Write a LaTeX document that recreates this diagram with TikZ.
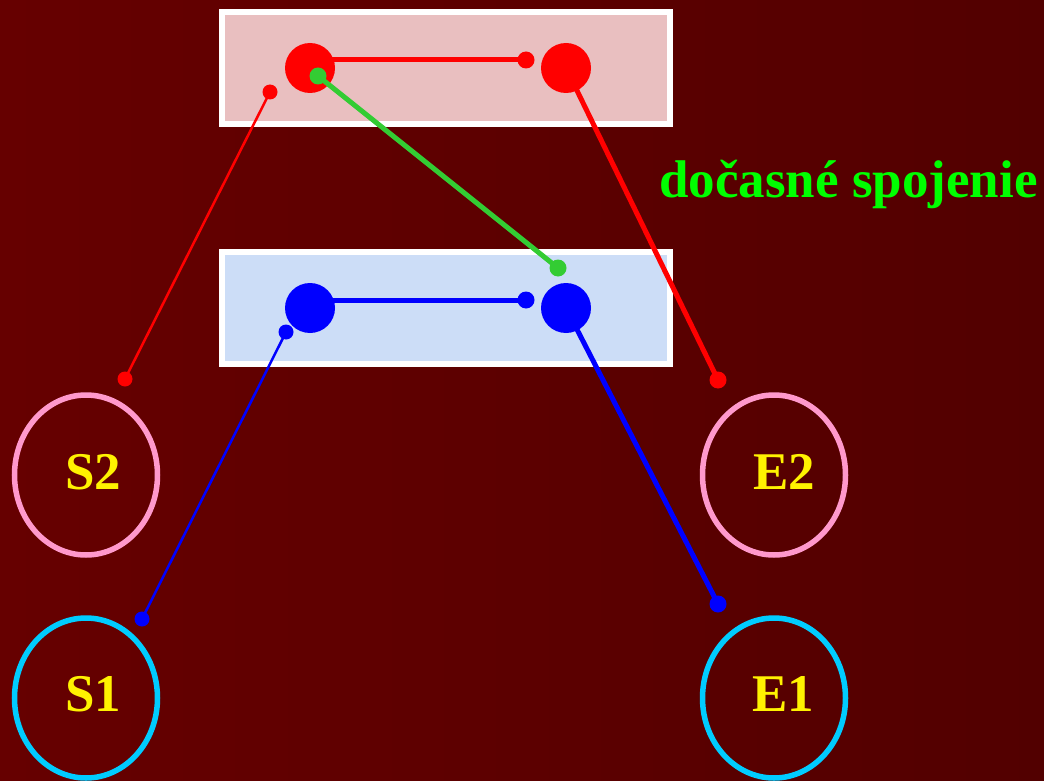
\documentclass[tikz,border=0pt]{standalone}
\usepackage{fontspec}
\setmainfont{Liberation Serif}
\usetikzlibrary{shapes.geometric}
\definecolor{bgL}{HTML}{660000}
\definecolor{bgR}{HTML}{520000}
\definecolor{pinkbox}{HTML}{E9BFC0}
\definecolor{bluebox}{HTML}{CCDDF7}
\definecolor{pinkring}{HTML}{FF99CC}
\definecolor{cyanring}{HTML}{00CCFF}
\definecolor{greenline}{HTML}{33CC33}
\definecolor{labelgreen}{HTML}{00FF00}
\begin{document}
\begin{tikzpicture}[x=1pt,y=-1pt,
  bigdot/.style={circle,inner sep=0pt,minimum size=50pt},
  smalldot/.style={circle,inner sep=0pt,minimum size=17pt},
  tinydot/.style={circle,inner sep=0pt,minimum size=15pt},
  panel/.style={draw=white,line width=6pt},
  ring/.style={ellipse,draw,line width=5.5pt,minimum width=143pt,minimum height=160pt,inner sep=0pt},
  lbl/.style={text=yellow,font=\fontsize{53}{60}\selectfont\bfseries,inner sep=0pt},
  thick line/.style={line width=5pt},
  thin line/.style={line width=2.5pt}]
\shade[left color=bgL,right color=bgR] (0,0) rectangle (1044,781);
\useasboundingbox (0,0) rectangle (1044,781);
% panels
\filldraw[panel,fill=pinkbox] (222,12) rectangle (670,124);
\filldraw[panel,fill=bluebox] (222,252) rectangle (670,364);
% rings
\node[ring,draw=pinkring] (s2) at (86,475) {};
\node[ring,draw=cyanring] (s1) at (86,698) {};
\node[ring,draw=pinkring] (e2) at (774,475) {};
\node[ring,draw=cyanring] (e1) at (774,698) {};
\node[lbl] (s2l) at (93,472) {S2};
\node[lbl] (s1l) at (93,694) {S1};
\node[lbl] (e2l) at (784,472) {E2};
\node[lbl] (e1l) at (783,694) {E1};
% red dots
\node[bigdot,fill=red] (ra) at (310,68) {};
\node[bigdot,fill=red] (rb) at (566,68) {};
\node[smalldot,fill=red] (rs) at (526,60) {};
\node[tinydot,fill=red] (rl) at (270,92) {};
\node[tinydot,fill=red] (rS) at (125,379) {};
\node[smalldot,fill=red] (rE) at (718,380) {};
% blue dots
\node[bigdot,fill=blue] (ba) at (310,308) {};
\node[bigdot,fill=blue] (bb) at (566,308) {};
\node[smalldot,fill=blue] (bs) at (526,300) {};
\node[tinydot,fill=blue] (bl) at (286,332) {};
\node[tinydot,fill=blue] (bS) at (142,619) {};
\node[smalldot,fill=blue] (bE) at (718,604) {};
% green dots
\node[smalldot,fill=greenline] (ga) at (318,76) {};
\node[smalldot,fill=greenline] (gb) at (558,268) {};
% connectors
\draw[red,thick line] (rs.center) -- (rs.center -| ra.center);
\draw[red,thin line] (rl.center) -- (rS.center);
\draw[red,thick line] (rb.center) -- (rE.center);
\draw[blue,thick line] (bs.center) -- (bs.center -| ba.center);
\draw[blue,thin line] (bl.center) -- (bS.center);
\draw[blue,thick line] (bb.center) -- (bE.center);
\draw[greenline,thick line] (ga.center) -- (gb.center);
% label
\node[anchor=base west,text=labelgreen,font=\fontsize{53}{60}\selectfont\bfseries,inner sep=0pt] (lab) at (659,197) {dočasné spojenie};
\end{tikzpicture}
\end{document}
